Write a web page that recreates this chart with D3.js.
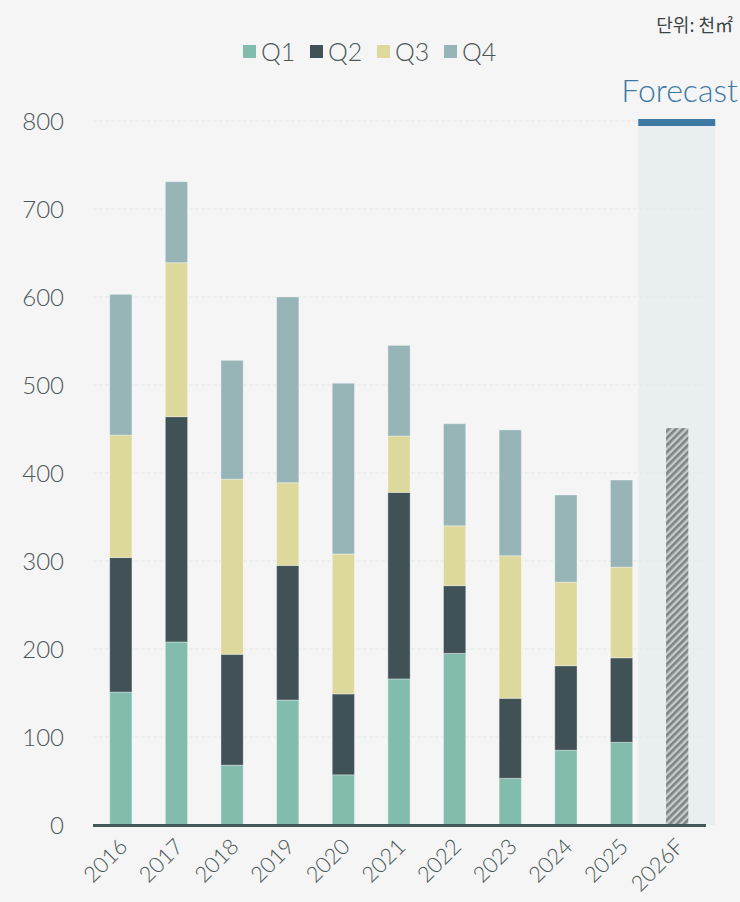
<!DOCTYPE html>
<meta charset="utf-8">
<style>
body { margin: 0; background: #f5f5f5; }
svg { display: block; font-family: "Lato", "Noto Sans", sans-serif; }
</style>
<body>
<script src="https://d3js.org/d3.v7.min.js"></script>
<script>

const width = 740
const height = 902

// data (thousand m2, by quarter)
const years = ['2016', '2017', '2018', '2019', '2020', '2021', '2022', '2023', '2024', '2025', '2026F']
const q1 = [151, 208, 68, 142, 57, 166, 195, 53, 85, 94]
const q2 = [153, 256, 126, 153, 92, 212, 77, 91, 96, 96]
const q3 = [139, 175, 199, 94, 159, 64, 68, 162, 95, 103]
const q4 = [160, 92, 135, 211, 194, 103, 116, 143, 99, 99]
const forecast = 451
const quarters = ['Q1', 'Q2', 'Q3', 'Q4']
const colors = ['#82bcad', '#415256', '#ddd99c', '#97b4b6']
const yTicks = [0, 100, 200, 300, 400, 500, 600, 700, 800]

const rows = years.slice(0, 10).map((y, i) => ({ year: y, Q1: q1[i], Q2: q2[i], Q3: q3[i], Q4: q4[i] }))

const svg = d3.select('body').append('svg')
  .attr('width', width)
  .attr('height', height)

svg.append('rect').attr('width', width).attr('height', height).attr('fill', '#f5f5f5')

// hatch pattern for forecast bar
const pat = svg.append('defs').append('pattern')
  .attr('id', 'hatch')
  .attr('patternUnits', 'userSpaceOnUse')
  .attr('width', 5).attr('height', 5)
  .attr('patternTransform', 'rotate(45)')
pat.append('rect').attr('width', 5).attr('height', 5).attr('fill', '#c8cbcb')
pat.append('rect').attr('width', 2.6).attr('height', 5).attr('fill', '#7e8384')

const x = d3.scaleBand()
  .domain(years)
  .range([93, 705])
  .paddingInner(0.6)
  .paddingOuter(0.3)

const y = d3.scaleLinear()
  .domain([0, 800])
  .range([825, 121])

// forecast shading
const fx = x('2026F') - x.step() * 0.5
svg.append('rect')
  .attr('x', fx)
  .attr('y', 126)
  .attr('width', 77)
  .attr('height', y(0) - 126)
  .attr('fill', '#e9eef1')

// grid
svg.append('g')
  .selectAll('line')
  .data(yTicks.slice(1))
  .join('line')
  .attr('x1', 93).attr('x2', 705)
  .attr('y1', d => y(d)).attr('y2', d => y(d))
  .attr('stroke', '#e4e7e7')
  .attr('stroke-dasharray', '4,2')

svg.append('rect')
  .attr('x', fx)
  .attr('y', 119)
  .attr('width', 77)
  .attr('height', 7)
  .attr('fill', '#3e79a3')
svg.append('text')
  .attr('x', 738)
  .attr('y', 102)
  .attr('text-anchor', 'end')
  .attr('font-size', 32)
  .attr('font-weight', 300)
  .attr('fill', '#3e79a3')
  .text('Forecast')

// y labels
svg.append('g')
  .selectAll('text')
  .data(yTicks)
  .join('text')
  .attr('x', 64)
  .attr('y', d => y(d))
  .attr('dy', '0.36em')
  .attr('text-anchor', 'end')
  .attr('font-size', 24)
  .attr('font-weight', 300)
  .attr('fill', '#4b5758')
  .text(d => d)

// stacked bars
const series = d3.stack().keys(quarters)(rows)
svg.append('g')
  .selectAll('g')
  .data(series)
  .join('g')
  .attr('fill', (d, i) => colors[i])
  .selectAll('rect')
  .data(d => d)
  .join('rect')
  .attr('x', d => x(d.data.year))
  .attr('y', d => y(d[1]))
  .attr('width', x.bandwidth())
  .attr('height', d => y(d[0]) - y(d[1]))
  .attr('stroke', 'rgba(255,255,255,0.35)')
  .attr('stroke-width', 1)

// forecast bar
svg.append('rect')
  .attr('x', x('2026F'))
  .attr('y', y(forecast))
  .attr('width', x.bandwidth())
  .attr('height', y(0) - y(forecast))
  .attr('fill', 'url(#hatch)')

// axis baseline
svg.append('line')
  .attr('x1', 93).attr('x2', 706)
  .attr('y1', y(0) + 0.5).attr('y2', y(0) + 0.5)
  .attr('stroke', '#46575a')
  .attr('stroke-width', 3)

// x labels
svg.append('g')
  .selectAll('text')
  .data(years)
  .join('text')
  .attr('transform', d => `translate(${x(d) + x.bandwidth() / 2 + 8},${848}) rotate(-45)`)
  .attr('text-anchor', 'end')
  .attr('font-size', 22)
  .attr('font-weight', 300)
  .attr('fill', '#4b5758')
  .text(d => d)

// legend
const legend = svg.append('g')
  .selectAll('g')
  .data(quarters)
  .join('g')
  .attr('transform', (d, i) => `translate(${243 + i * 67},45)`)
legend.append('rect')
  .attr('width', 13).attr('height', 13)
  .attr('fill', (d, i) => colors[i])
legend.append('text')
  .attr('x', 18)
  .attr('y', 7)
  .attr('dy', '0.36em')
  .attr('font-size', 25)
  .attr('font-weight', 300)
  .attr('fill', '#4b5758')
  .text(d => d)

// unit
svg.append('text')
  .attr('x', 733)
  .attr('y', 32)
  .attr('text-anchor', 'end')
  .attr('font-family', '"Noto Sans CJK KR", sans-serif')
  .attr('font-size', 18)
  .attr('font-weight', 400)
  .attr('fill', '#3a4445')
  .text('단위: 천㎡')

</script>
</body>
</html>
